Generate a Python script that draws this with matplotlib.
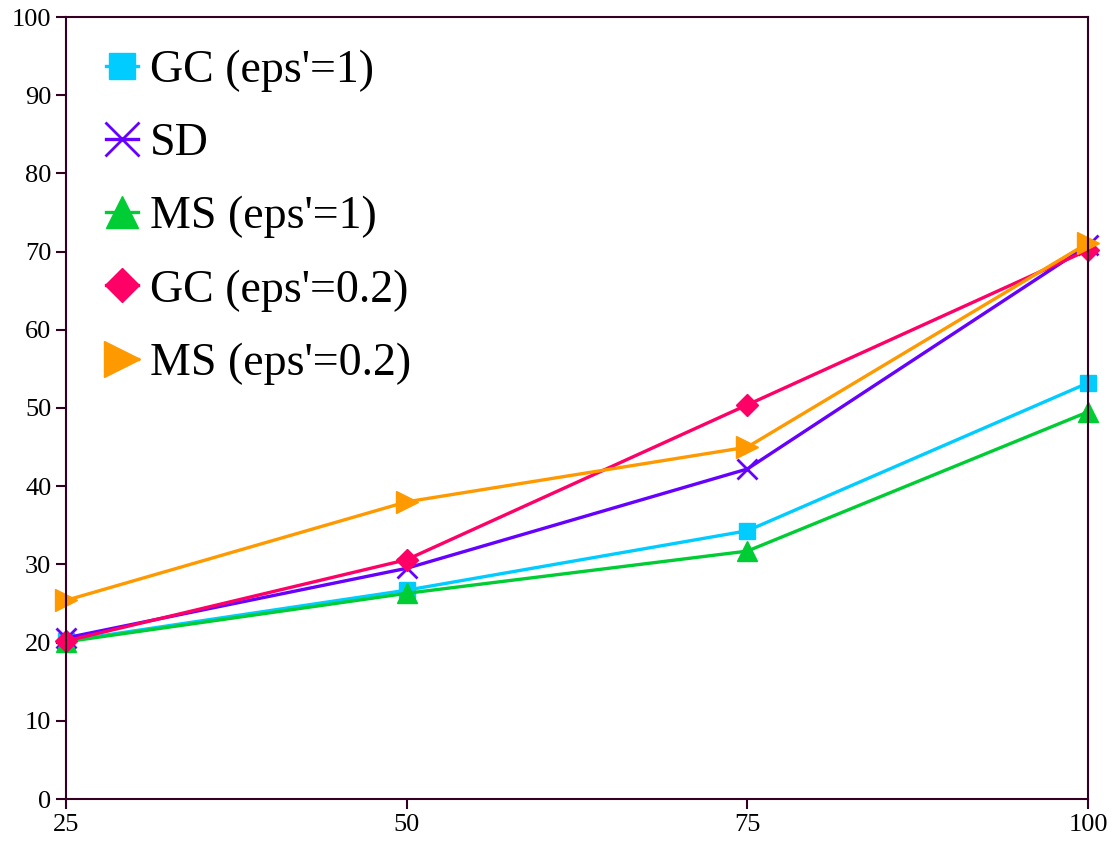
import matplotlib.pyplot as plt

plt.rcParams['font.family'] = ['Liberation Serif', 'DejaVu Serif']

x = [25, 50, 75, 100]
gc_1 = [20.2, 26.7, 34.3, 53.2]
sd = [20.6, 29.5, 42.2, 70.8]
ms_1 = [20.1, 26.3, 31.7, 49.5]
gc_02 = [20.2, 30.6, 50.4, 70.2]
ms_02 = [25.4, 38.0, 45.0, 71.1]

labels = ["GC (eps'=1)", "SD", "MS (eps'=1)", "GC (eps'=0.2)", "MS (eps'=0.2)"]

fig = plt.figure(figsize=(11.17, 8.5), dpi=100)
ax = fig.add_axes([0.059, 0.06, 0.915, 0.92])

ax.plot(x, gc_1, color='#00CCFF', lw=2.4, marker='s', ms=12, label=labels[0], clip_on=False)
ax.plot(x, sd, color='#6600FF', lw=2.4, marker='x', ms=15, mew=2, label=labels[1], clip_on=False)
ax.plot(x, ms_1, color='#00CC33', lw=2.4, marker='^', ms=14, label=labels[2], clip_on=False)
ax.plot(x, gc_02, color='#FF0066', lw=2.4, marker='D', ms=11, label=labels[3], clip_on=False)
ax.plot(x, ms_02, color='#FF9900', lw=2.4, marker='>', ms=16, label=labels[4], clip_on=False)

ax.set_xlim(25, 100)
ax.set_ylim(0, 100)
ax.set_xticks(x)
ax.set_yticks(range(0, 101, 10))
ax.tick_params(direction='out', length=7, width=1.5, color='#330022', labelsize=19)
for s in ax.spines.values():
    s.set_color('#330022')
    s.set_linewidth(1.5)

ax.legend(loc='upper left', bbox_to_anchor=(0.0215, 0.982), frameon=False, fontsize=33,
          handlelength=0.7, handletextpad=0.26, labelspacing=0.67, borderaxespad=0,
          markerscale=1.6)

fig.savefig('out.png', dpi=100)
